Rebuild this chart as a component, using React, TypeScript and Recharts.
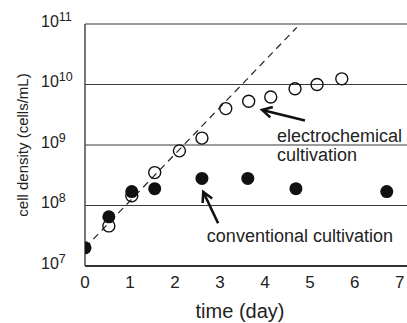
import {
  ComposedChart,
  Scatter,
  XAxis,
  YAxis,
  CartesianGrid,
  ReferenceLine,
  ReferenceDot,
} from 'recharts';

const FONT = '"Liberation Sans", Arial, sans-serif';

// electrochemical cultivation (open circles)
const electroDays = [0.53, 1.04, 1.55, 2.1, 2.6, 3.13, 3.64, 4.13, 4.67, 5.16, 5.71];
const electroDensity = [4.6e7, 1.45e8, 3.5e8, 8e8, 1.3e9, 4e9, 5.3e9, 6.2e9, 8.5e9, 1e10, 1.24e10];

// conventional cultivation (filled circles)
const convDays = [0, 0.53, 1.04, 1.55, 2.6, 3.62, 4.69, 6.71];
const convDensity = [2e7, 6.5e7, 1.7e8, 1.9e8, 2.8e8, 2.8e8, 1.9e8, 1.7e8];

// dashed exponential growth line
const fitDays = [0, 4.71];
const fitDensity = [2e7, 8.8e10];

const dayTicks = [0, 1, 2, 3, 4, 5, 6, 7];
const densityTicks = [1e7, 1e8, 1e9, 1e10, 1e11];

// annotation anchors (data coords)
const electroArrow = [{ x: 4.89, y: 2.55e9 }, { x: 3.94, y: 3.8e9 }];
const convArrow = [{ x: 2.96, y: 5.1e7 }, { x: 2.63, y: 1.67e8 }];
const electroText = { x: 4.27, y: 1.12e9 };
const convText = { x: 2.71, y: 2.5e7 };

const electroData = electroDays.map((d, i) => ({ x: d, y: electroDensity[i] }));
const convData = convDays.map((d, i) => ({ x: d, y: convDensity[i] }));

const OpenDot = (p: any) => (
  <circle cx={p.cx} cy={p.cy} r={6} fill="none" stroke="#111" strokeWidth={1.4} />
);
const FilledDot = (p: any) => <circle cx={p.cx} cy={p.cy} r={6.5} fill="#111" />;

const Arrow = (p: any) => {
  const { x1, y1, x2, y2 } = p;
  const ang = Math.atan2(y1 - y2, x1 - x2);
  const len = 11;
  const a1 = ang + 0.5;
  const a2 = ang - 0.5;
  return (
    <g>
      <line x1={x1} y1={y1} x2={x2} y2={y2} stroke="#111" strokeWidth={2.6} />
      <polyline
        points={`${x2 + len * Math.cos(a1)},${y2 + len * Math.sin(a1)} ${x2},${y2} ${x2 + len * Math.cos(a2)},${y2 + len * Math.sin(a2)}`}
        fill="none"
        stroke="#111"
        strokeWidth={2.6}
        strokeLinejoin="miter"
      />
    </g>
  );
};

const YTick = (p: any) => {
  const exp = Math.round(Math.log10(p.payload.value));
  return (
    <text x={41} y={p.y + 2.5} fontFamily={FONT} fill="#222" textAnchor="start">
      <tspan fontSize={16}>10</tspan>
      <tspan fontSize={12.5} dy={-6}>{exp}</tspan>
    </text>
  );
};

const XTick = (p: any) => (
  <text x={p.x} y={288} fontFamily={FONT} fontSize={17} fill="#222" textAnchor="middle">
    {p.payload.value}
  </text>
);

export default function App() {
  return (
    <div style={{ position: 'absolute', left: 0, top: 0, width: 407, height: 323, background: '#fff' }}>
      <ComposedChart width={407} height={323} margin={{ top: 24, right: 0, bottom: 0, left: 0 }}>
        <CartesianGrid horizontal vertical={false} stroke="#3a3a3a" strokeWidth={1.2} />
        <XAxis
          type="number"
          dataKey="x"
          domain={[0, 7.16]}
          ticks={dayTicks}
          allowDataOverflow
          height={57}
          tickLine={false}
          axisLine={{ stroke: '#111', strokeWidth: 1.6 }}
          tick={<XTick />}
          label={(lp: any) => (
            <text
              x={lp.viewBox.x + lp.viewBox.width / 2 - 6}
              y={318}
              fontFamily={FONT}
              fontSize={20}
              fill="#222"
              textAnchor="middle"
            >
              time (day)
            </text>
          )}
        />
        <YAxis
          type="number"
          dataKey="y"
          scale="log"
          domain={[1e7, 1e11]}
          ticks={densityTicks}
          allowDataOverflow
          width={85}
          tickLine={false}
          axisLine={{ stroke: '#555', strokeWidth: 1.6 }}
          tick={<YTick />}
          label={(lp: any) => {
            const cy = lp.viewBox.y + lp.viewBox.height / 2;
            return (
              <text
                x={28}
                y={cy}
                transform={`rotate(-90, 28, ${cy})`}
                fontFamily={FONT}
                fontSize={15}
                fill="#222"
                textAnchor="middle"
              >
                cell density (cells/mL)
              </text>
            );
          }}
        />
        <ReferenceLine
          segment={[
            { x: fitDays[0], y: fitDensity[0] },
            { x: fitDays[1], y: fitDensity[1] },
          ]}
          stroke="#222"
          strokeWidth={1.2}
          strokeDasharray="7 5"
        />
        <Scatter data={electroData} shape={OpenDot} isAnimationActive={false} />
        <Scatter data={convData} shape={FilledDot} isAnimationActive={false} />
        <ReferenceLine segment={electroArrow} shape={Arrow} />
        <ReferenceLine segment={convArrow} shape={Arrow} />
        <ReferenceDot
          x={electroText.x}
          y={electroText.y}
          shape={(p: any) => (
            <text x={p.cx} y={p.cy} fontFamily={FONT} fontSize={18} fill="#222">
              <tspan x={p.cx}>electrochemical</tspan>
              <tspan x={p.cx} dy={19}>cultivation</tspan>
            </text>
          )}
        />
        <ReferenceDot
          x={convText.x}
          y={convText.y}
          shape={(p: any) => (
            <text x={p.cx} y={p.cy} fontFamily={FONT} fontSize={18} fill="#222">
              conventional cultivation
            </text>
          )}
        />
      </ComposedChart>
    </div>
  );
}
